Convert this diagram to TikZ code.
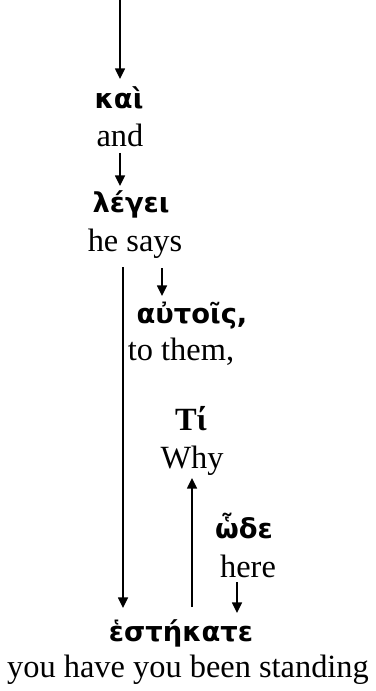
\documentclass[tikz,border=0pt]{standalone}
\usepackage{fontspec}
\setmainfont{Liberation Serif}
\newfontfamily\grk[Script=Greek]{DejaVu Sans}
\usetikzlibrary{arrows.meta}
\begin{document}
\begin{tikzpicture}[x=0.75pt,y=-0.75pt,
  gr/.style={font=\grk\bfseries\fontsize{20.5}{24}\selectfont, inner sep=0, anchor=base},
  grs/.style={font=\bfseries\fontsize{24.3}{28}\selectfont, inner sep=0, anchor=base},
  en/.style={font=\fontsize{24.3}{28}\selectfont, inner sep=0, anchor=base},
  arr/.style={line width=1.1pt, -{Triangle[length=8pt,width=7.5pt]}}]
\useasboundingbox (0,0) rectangle (375,691);
% words
\node[gr] (kai) at (119,109) {καὶ};
\node[en] (and) at (120,147) {and};
\node[gr] (lege) at (131,213) {λέγει};
\node[en] (says) at (135,252) {he says};
\node[gr] (autois) at (192,323) {αὐτοῖς,};
\node[en] (them) at (181,360) {to them,};
\node[grs] (ti) at (191,430) {Τί};
\node[en] (why) at (192,468) {Why};
\node[gr] (hode) at (244,538) {ὧδε};
\node[en] (here) at (248,577) {here};
\node[gr] (hest) at (181,641) {ἑστήκατε};
\node[en] (stand) at (188,677) {you have you been standing};
% arrow end points
\coordinate (a1s) at (120,0);   \coordinate (a1e) at (120,79);
\coordinate (a2s) at (120,153); \coordinate (a2e) at (120,186);
\coordinate (a3s) at (123,267); \coordinate (a3e) at (123,608);
\coordinate (a4s) at (162,268); \coordinate (a4e) at (162,296);
\coordinate (a5s) at (192,607); \coordinate (a5e) at (192,478);
\coordinate (a6s) at (237,582); \coordinate (a6e) at (237,613);
\draw[arr] (a1s) -- (a1e);
\draw[arr] (a2s) -- (a2e);
\draw[arr] (a3s) -- (a3e);
\draw[arr] (a4s) -- (a4e);
\draw[arr] (a5s) -- (a5e);
\draw[arr] (a6s) -- (a6e);
\end{tikzpicture}
\end{document}
